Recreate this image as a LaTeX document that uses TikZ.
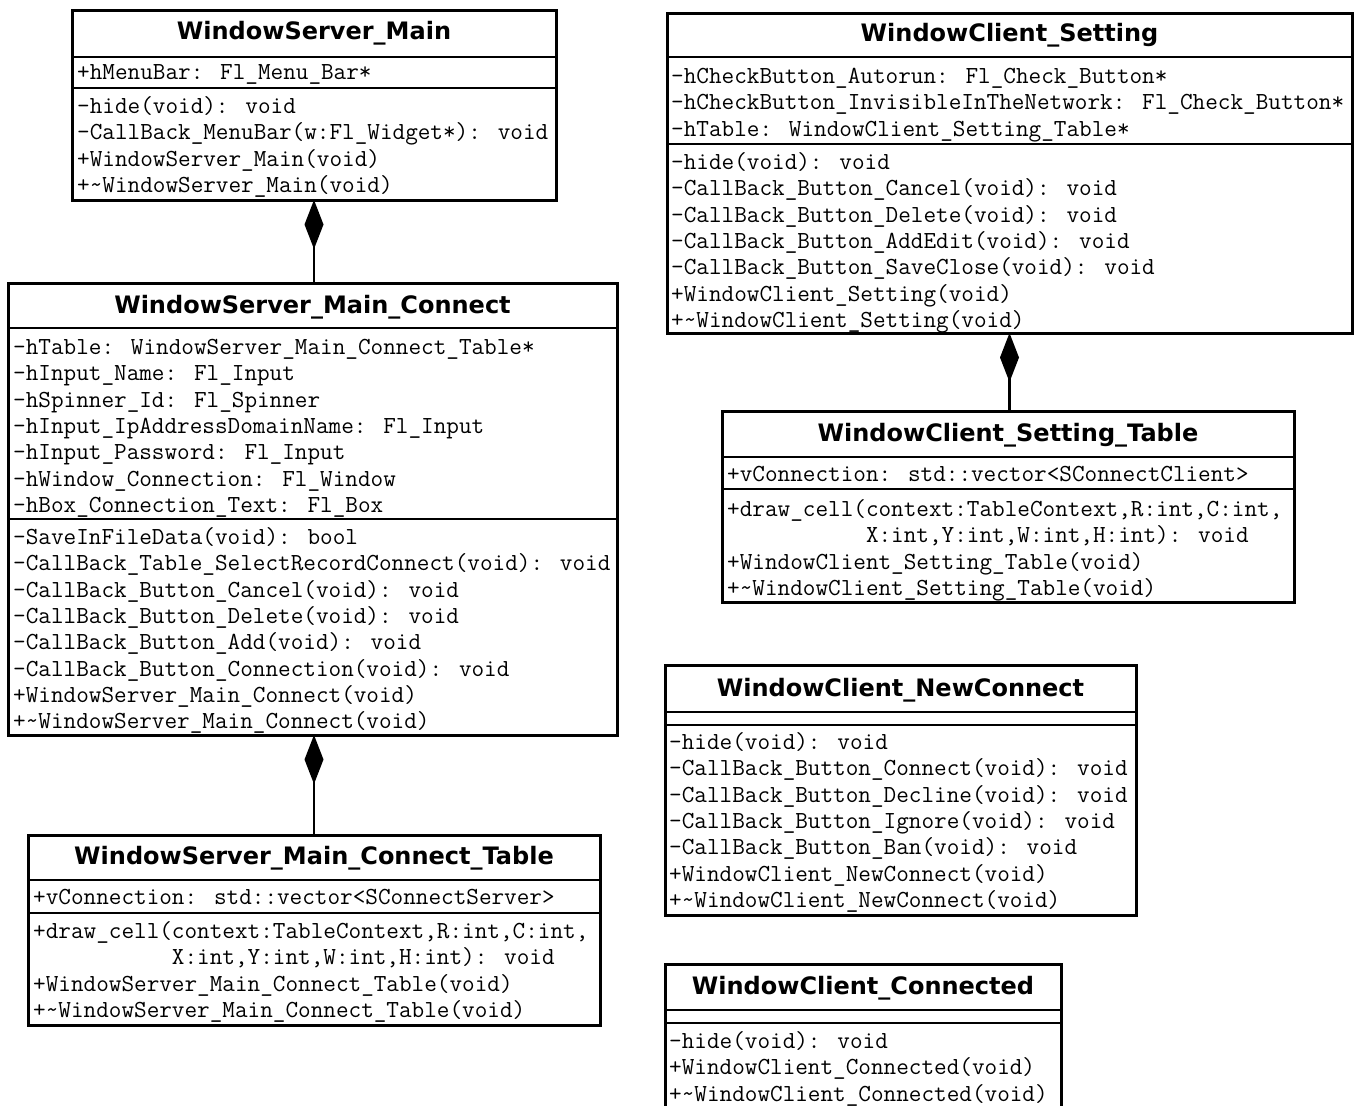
\documentclass[tikz,border=0pt]{standalone}
\usepackage{fontspec}
\usetikzlibrary{arrows.meta}
\newfontfamily\titlef{DejaVu Sans}

% one line of a class compartment, placed by its vertical centre
\newcommand\classrows[4]{%
  \foreach \txt [count=\k] in {#4}{
    \node[row] (#1-\k) at (#2, {#3+26.3*(\k-1)}) {\txt};
  }%
}

\tikzset{
  classbox/.style={draw, line width=3pt, inner sep=0pt, outer sep=0pt,
    anchor=north west, fill=white},
  classtitle/.style={inner sep=0pt, font=\titlef\bfseries\fontsize{24}{28}\selectfont},
  row/.style={anchor=west, inner sep=0pt, text height=17pt, text depth=4pt,
    font=\ttfamily\fontsize{24.5}{26}\selectfont},
  sepline/.style={line width=2.6pt},
  comp/.style={line width=2.8pt, {Diamond[length=49pt,width=19pt,fill=black]}-}
}

\begin{document}
\begin{tikzpicture}[x=1pt,y=-1pt]
\useasboundingbox (0,0) rectangle (1358,1106);
\fill[white] (0,0) rectangle (1358,1106);
\clip (0,0) rectangle (1358,1106);

% ---------------- WindowServer_Main ----------------
\node[classbox, minimum width=484pt, minimum height=190pt] (wsm) at (72,10) {};
\node[classtitle] (wsm-t) at (314,33) {WindowServer\_Main};
\draw[sepline] (wsm.west |- 0,57) -- (wsm.east |- 0,57);
\draw[sepline] (wsm.west |- 0,88) -- (wsm.east |- 0,88);
\classrows{wsm-a}{77}{73}{+hMenuBar: Fl\_Menu\_Bar*}
\classrows{wsm-m}{77}{107}{-hide(void): void,
  -CallBack\_MenuBar(w:Fl\_Widget*): void,
  +WindowServer\_Main(void),
  +\textasciitilde WindowServer\_Main(void)}

% ---------------- WindowServer_Main_Connect ----------------
\node[classbox, minimum width=609pt, minimum height=452pt] (wsc) at (8,283) {};
\node[classtitle] (wsc-t) at (312.5,307) {WindowServer\_Main\_Connect};
\draw[sepline] (wsc.west |- 0,328) -- (wsc.east |- 0,328);
\draw[sepline] (wsc.west |- 0,519) -- (wsc.east |- 0,519);
\classrows{wsc-a}{13}{348}{-hTable: WindowServer\_Main\_Connect\_Table*,
  -hInput\_Name: Fl\_Input,
  -hSpinner\_Id: Fl\_Spinner,
  -hInput\_IpAddressDomainName: Fl\_Input,
  -hInput\_Password: Fl\_Input,
  -hWindow\_Connection: Fl\_Window,
  -hBox\_Connection\_Text: Fl\_Box}
\classrows{wsc-m}{13}{538}{-SaveInFileData(void): bool,
  -CallBack\_Table\_SelectRecordConnect(void): void,
  -CallBack\_Button\_Cancel(void): void,
  -CallBack\_Button\_Delete(void): void,
  -CallBack\_Button\_Add(void): void,
  -CallBack\_Button\_Connection(void): void,
  +WindowServer\_Main\_Connect(void),
  +\textasciitilde WindowServer\_Main\_Connect(void)}

% ---------------- WindowServer_Main_Connect_Table ----------------
\node[classbox, minimum width=572pt, minimum height=190pt] (wst) at (28,835) {};
\node[classtitle] (wst-t) at (314,858) {WindowServer\_Main\_Connect\_Table};
\draw[sepline] (wst.west |- 0,880) -- (wst.east |- 0,880);
\draw[sepline] (wst.west |- 0,913) -- (wst.east |- 0,913);
\classrows{wst-a}{33}{898}{+vConnection: std::vector<SConnectServer>}
\classrows{wst-m}{33}{932}{{+draw\_cell(context:TableContext,R:int,C:int,},
  {\phantom{+draw\_cell(}X:int,Y:int,W:int,H:int): void},
  +WindowServer\_Main\_Connect\_Table(void),
  +\textasciitilde WindowServer\_Main\_Connect\_Table(void)}

% ---------------- WindowClient_Setting ----------------
\node[classbox, minimum width=685pt, minimum height=320pt] (wcs) at (667,13) {};
\node[classtitle] (wcs-t) at (1009.5,35) {WindowClient\_Setting};
\draw[sepline] (wcs.west |- 0,57) -- (wcs.east |- 0,57);
\draw[sepline] (wcs.west |- 0,144) -- (wcs.east |- 0,144);
\classrows{wcs-a}{671}{77}{-hCheckButton\_Autorun: Fl\_Check\_Button*,
  -hCheckButton\_InvisibleInTheNetwork: Fl\_Check\_Button*,
  -hTable: WindowClient\_Setting\_Table*}
\classrows{wcs-m}{671}{163}{-hide(void): void,
  -CallBack\_Button\_Cancel(void): void,
  -CallBack\_Button\_Delete(void): void,
  -CallBack\_Button\_AddEdit(void): void,
  -CallBack\_Button\_SaveClose(void): void,
  +WindowClient\_Setting(void),
  +\textasciitilde WindowClient\_Setting(void)}

% ---------------- WindowClient_Setting_Table ----------------
\node[classbox, minimum width=572pt, minimum height=191pt] (wct) at (722,411) {};
\node[classtitle] (wct-t) at (1008,435) {WindowClient\_Setting\_Table};
\draw[sepline] (wct.west |- 0,457) -- (wct.east |- 0,457);
\draw[sepline] (wct.west |- 0,489) -- (wct.east |- 0,489);
\classrows{wct-a}{727}{475}{+vConnection: std::vector<SConnectClient>}
\classrows{wct-m}{727}{510}{{+draw\_cell(context:TableContext,R:int,C:int,},
  {\phantom{+draw\_cell(}X:int,Y:int,W:int,H:int): void},
  +WindowClient\_Setting\_Table(void),
  +\textasciitilde WindowClient\_Setting\_Table(void)}

% ---------------- WindowClient_NewConnect ----------------
\node[classbox, minimum width=471pt, minimum height=250pt] (wcn) at (665,665) {};
\node[classtitle] (wcn-t) at (900.5,690) {WindowClient\_NewConnect};
\draw[sepline] (wcn.west |- 0,712) -- (wcn.east |- 0,712);
\draw[sepline] (wcn.west |- 0,725) -- (wcn.east |- 0,725);
\classrows{wcn-m}{669}{743}{-hide(void): void,
  -CallBack\_Button\_Connect(void): void,
  -CallBack\_Button\_Decline(void): void,
  -CallBack\_Button\_Ignore(void): void,
  -CallBack\_Button\_Ban(void): void,
  +WindowClient\_NewConnect(void),
  +\textasciitilde WindowClient\_NewConnect(void)}

% ---------------- WindowClient_Connected ----------------
\node[classbox, minimum width=396pt, minimum height=160pt] (wcc) at (665,964) {};
\node[classtitle] (wcc-t) at (863,988) {WindowClient\_Connected};
\draw[sepline] (wcc.west |- 0,1010) -- (wcc.east |- 0,1010);
\draw[sepline] (wcc.west |- 0,1023) -- (wcc.east |- 0,1023);
\classrows{wcc-m}{669}{1042}{-hide(void): void,
  +WindowClient\_Connected(void),
  +\textasciitilde WindowClient\_Connected(void)}

% ---------------- compositions ----------------
\draw[comp] (wsm.south) -- (wsm.south |- wsc.north);
\draw[comp] (wsc.south -| wsm.south) -- (wsm.south |- wst.north);
\draw[comp] (wcs.south) -- (wcs.south |- wct.north);
\end{tikzpicture}
\end{document}
